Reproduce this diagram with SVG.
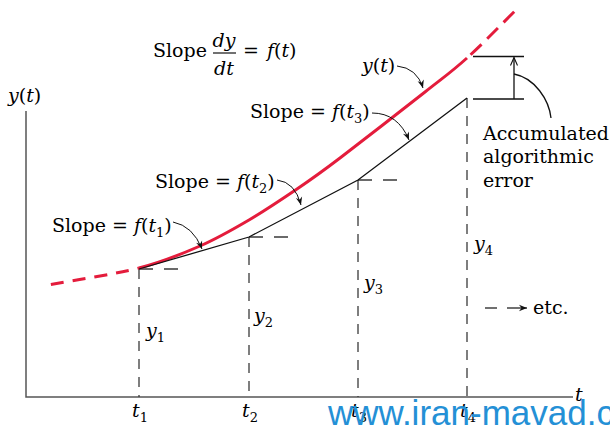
<svg xmlns="http://www.w3.org/2000/svg" width="610" height="429" viewBox="0 0 610 429">
<defs>
<style>
.t{font-family:"DejaVu Serif","Liberation Serif",serif;font-size:19px;fill:#000}
.i{font-style:italic}
.s{font-size:13px}
.ax{stroke:#555;stroke-width:1.5;fill:none}
.vd{stroke:#3a3a3a;stroke-width:1.3;stroke-dasharray:10 8;fill:none}
.hd{stroke:#3a3a3a;stroke-width:1.3;stroke-dasharray:14 11;fill:none}
.red{stroke:#e41c3c;stroke-width:3;fill:none}
.blk{stroke:#111;stroke-width:1.3;fill:none}
.con{stroke:#111;stroke-width:1;fill:none;marker-end:url(#ah)}
</style>
<marker id="ah" viewBox="-9 -4 10 8" refX="0" refY="0" markerWidth="10" markerHeight="8" markerUnits="userSpaceOnUse" orient="auto"><path d="M0,0 L-8,-3.2 L-5.5,0 L-8,3.2 Z" fill="#111"/></marker>
<marker id="av" viewBox="-9 -5 10 10" refX="0" refY="0" markerWidth="10" markerHeight="10" markerUnits="userSpaceOnUse" orient="auto"><path d="M-8,-3.5 L0,0 L-8,3.5" fill="none" stroke="#111" stroke-width="1.1"/></marker>
</defs>

<g id="axes">
<path class="ax" d="M26,111 V397 H573"/>
<text class="t i" x="8" y="102">y<tspan font-style="normal">(</tspan>t<tspan font-style="normal">)</tspan></text>
<text class="t i" x="575" y="401">t</text>
</g>

<g id="guides">
<path class="vd" d="M139,269 V397 M249,237 V397 M358,180 V397 M467,98 V397"/>
<path class="hd" d="M139,269 H179 M249,237 H289 M358,180 H398"/>
</g>

<g id="true-curve">
<path class="red" stroke-dasharray="13 9" stroke-dashoffset="-3" d="M48,285 C78.3,279.3 113.7,274.5 139,268"/>
<path class="red" d="M139,268 C164.3,261.5 181.7,254 200,246 C218.3,238 232.8,229.5 249,220 C265.2,210.5 281.8,199.3 297,189 C312.2,178.7 318.7,174.2 340,158 C361.3,141.8 403.8,108.7 425,92 C446.2,75.3 451.8,71.7 467,58"/>
<path class="red" stroke-dasharray="15 8" stroke-dashoffset="18" d="M467,58 C482.2,44.3 499.7,26 516,10"/>
</g>

<g id="euler-path">
<path class="blk" d="M139,269 L249,237 L358,180 L467,98"/>
</g>

<g id="error">
<path class="blk" d="M473,56.5 H524 M473,99 H524"/>
<path class="blk" marker-end="url(#av)" d="M514,99 V57.5"/>
<path class="blk" stroke-width="1" d="M514,74 C535,78 549,100 551,118"/>
<text class="t" x="483" y="140">Accumulated</text>
<text class="t" x="483" y="163">algorithmic</text>
<text class="t" x="483" y="187">error</text>
</g>

<g id="connectors">
<path class="con" d="M397,66 Q417,68 423,88"/>
<path class="con" d="M372,113 Q398,113 409,140"/>
<path class="con" d="M277,180 Q295,182 301,205"/>
<path class="con" d="M173,222 Q193,226 202,249"/>
</g>

<g id="labels">
<text class="t" x="153" y="57">Slope</text>
<text class="t i" x="224" y="47" text-anchor="middle">dy</text>
<path d="M213,53 H236" stroke="#111" stroke-width="1.2"/>
<text class="t i" x="224" y="75" text-anchor="middle">dt</text>
<text class="t" x="243" y="57">=</text>
<text class="t" x="267" y="57"><tspan class="i">f</tspan>(<tspan class="i">t</tspan>)</text>
<text class="t i" x="362" y="72">y<tspan font-style="normal">(</tspan>t<tspan font-style="normal">)</tspan></text>
<text class="t" x="250" y="118">Slope = <tspan class="i">f</tspan>(<tspan class="i">t</tspan><tspan class="s" dy="5">3</tspan><tspan dy="-5">)</tspan></text>
<text class="t" x="155" y="188">Slope = <tspan class="i">f</tspan>(<tspan class="i">t</tspan><tspan class="s" dy="5">2</tspan><tspan dy="-5">)</tspan></text>
<text class="t" x="52" y="232">Slope = <tspan class="i">f</tspan>(<tspan class="i">t</tspan><tspan class="s" dy="5">1</tspan><tspan dy="-5">)</tspan></text>
<text class="t i" x="146" y="337">y<tspan class="s" font-style="normal" dy="5">1</tspan></text>
<text class="t i" x="254" y="322">y<tspan class="s" font-style="normal" dy="5">2</tspan></text>
<text class="t i" x="364" y="289">y<tspan class="s" font-style="normal" dy="5">3</tspan></text>
<text class="t i" x="474" y="250">y<tspan class="s" font-style="normal" dy="5">4</tspan></text>
<text class="t i" x="132" y="417">t<tspan class="s" font-style="normal" dy="5">1</tspan></text>
<text class="t i" x="242" y="417">t<tspan class="s" font-style="normal" dy="5">2</tspan></text>
<text class="t i" x="351" y="417">t<tspan class="s" font-style="normal" dy="5">3</tspan></text>
<text class="t i" x="460" y="417">t<tspan class="s" font-style="normal" dy="5">4</tspan></text>
</g>

<g id="etc">
<path d="M485,308 H497" stroke="#111" stroke-width="1.2"/>
<path d="M507,308 H527" stroke="#111" stroke-width="1.2" marker-end="url(#ah)"/>
<text class="t" x="533" y="314">etc.</text>
</g>

<text x="328" y="425" font-family="Liberation Sans, Arial, sans-serif" font-size="35" fill="#2490d6">www.iran-mavad.c</text>
</svg>
